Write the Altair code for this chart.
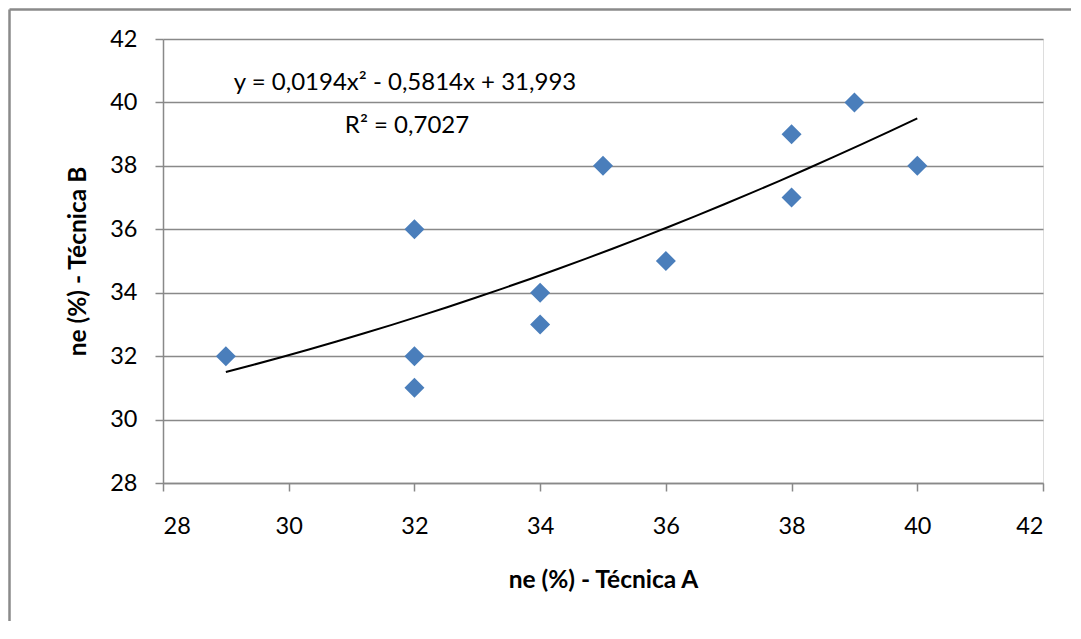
import altair as alt
import pandas as pd

tecnica_a = [29, 32, 32, 32, 34, 34, 35, 36, 38, 38, 39, 40]
tecnica_b = [32, 36, 32, 31, 34, 33, 38, 35, 39, 37, 40, 38]
tick_values = [28, 30, 32, 34, 36, 38, 40, 42]
axis_domain = [28, 42]
trend_extent = [29, 40]
equation = ["y = 0,0194x² - 0,5814x + 31,993"]
r_squared = ["R² = 0,7027"]
x_title = "ne (%) - Técnica A"
y_title = "ne (%) - Técnica B"

df = pd.DataFrame({"a": tecnica_a, "b": tecnica_b})

W, H = 880, 444
GRAY = "#898989"
FONT = "Lato"

xs = alt.Scale(domain=axis_domain, nice=False, zero=False)
ys = alt.Scale(domain=axis_domain, nice=False, zero=False)

x_axis = alt.Axis(
    values=tick_values, format="d", grid=False, tickSize=8, tickColor=GRAY,
    tickWidth=1.5, domainColor=GRAY, domainWidth=1.5, labelPadding=23,
    labelFontSize=23.5, labelFont=FONT, labelColor="black", title=x_title,
    titleFont=FONT, titleFontSize=24.5, titleFontWeight="bold",
    titleColor="black", titleX=W / 2, titleY=97, titleBaseline="middle",
    titleAlign="center",
)
y_axis = alt.Axis(
    values=tick_values, format="d", grid=True, gridColor=GRAY, gridWidth=1.5,
    tickSize=8, tickColor=GRAY, tickWidth=1.5, domainColor=GRAY,
    domainWidth=1.5, labelPadding=18, labelFontSize=23.5, labelFont=FONT,
    labelColor="black", title=y_title, titleFont=FONT, titleFontSize=24.5,
    titleFontWeight="bold", titleColor="black", titleX=-85, titleY=H / 2,
    titleAngle=270, titleBaseline="middle", titleAlign="center",
)

base = alt.Chart(df)

points = base.mark_point(
    shape="diamond", filled=True, size=400, color="#4A7EBB", opacity=1
).encode(
    x=alt.X("a:Q", scale=xs, axis=x_axis),
    y=alt.Y("b:Q", scale=ys, axis=y_axis),
)

trend = base.transform_regression(
    "a", "b", method="poly", order=2, extent=trend_extent
).mark_line(color="black", strokeWidth=2).encode(
    x=alt.X("a:Q", scale=xs),
    y=alt.Y("b:Q", scale=ys),
)

eq_text = alt.Chart(pd.DataFrame({"t": equation})).mark_text(
    font=FONT, fontSize=24, color="black", align="center", baseline="alphabetic"
).encode(x=alt.value(242), y=alt.value(51), text="t:N")

r2_text = alt.Chart(pd.DataFrame({"t": r_squared})).mark_text(
    font=FONT, fontSize=24, color="black", align="center", baseline="alphabetic"
).encode(x=alt.value(244), y=alt.value(94), text="t:N")

frame_left = alt.Chart(pd.DataFrame({"k": [0]})).mark_rule(
    color="#8a8a8a", strokeWidth=2.5
).encode(x=alt.value(-153.5), y=alt.value(-29.5), y2=alt.value(H + 300))

frame_top = alt.Chart(pd.DataFrame({"k": [0]})).mark_rule(
    color="#8a8a8a", strokeWidth=2.5
).encode(x=alt.value(-153.5), x2=alt.value(W + 300), y=alt.value(-29.5))

chart = alt.layer(points, trend, eq_text, r2_text, frame_left, frame_top).properties(
    width=W, height=H,
    autosize=alt.AutoSizeParams(type="none"),
    padding={"left": 155, "top": 31, "right": 28, "bottom": 138},
).configure_view(stroke=None).configure(background="white")

chart.save("out.html", embed_options={"renderer": "svg", "actions": False})
